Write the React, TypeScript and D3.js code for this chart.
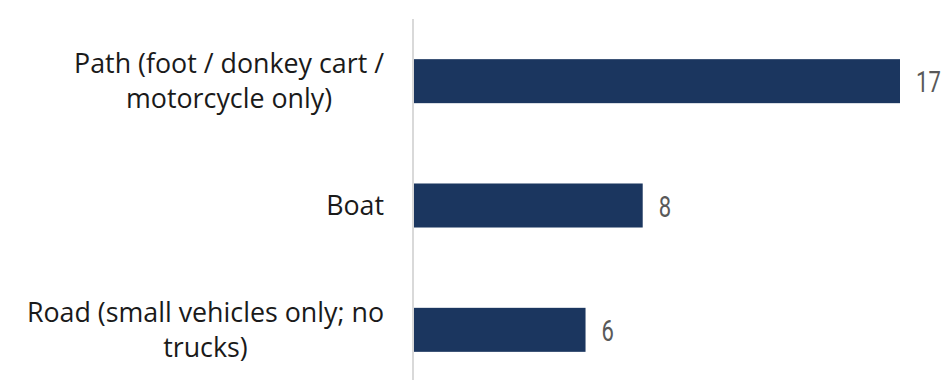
import React, { useEffect, useRef } from "react";
import * as d3 from "d3";

const categories = [
  "Path (foot / donkey cart /\nmotorcycle only)",
  "Boat",
  "Road (small vehicles only; no\ntrucks)",
];
const values = [17, 8, 6];

const W = 943;
const H = 380;

export default function App() {
  const ref = useRef<SVGSVGElement | null>(null);

  useEffect(() => {
    const svg = d3.select(ref.current);
    svg.selectAll("*").remove();

    const x = d3.scaleLinear().domain([0, 17]).range([414, 900]);
    const y = d3
      .scaleBand<string>()
      .domain(categories)
      .range([19, 392])
      .paddingInner(0.646)
      .paddingOuter(0.323);

    const data = categories.map((c, i) => ({ c, v: values[i] }));

    svg
      .append("g")
      .selectAll("rect")
      .data(data)
      .join("rect")
      .attr("x", x(0))
      .attr("y", (d) => y(d.c)!)
      .attr("width", (d) => x(d.v) - x(0))
      .attr("height", y.bandwidth())
      .attr("fill", "#1b365f");

    svg
      .append("line")
      .attr("x1", 413)
      .attr("x2", 413)
      .attr("y1", y.range()[0])
      .attr("y2", y.range()[1])
      .attr("stroke", "#d9d9d9")
      .attr("stroke-width", 2);

    // value labels (condensed horizontally to match the narrow digits)
    svg
      .append("g")
      .selectAll("text")
      .data(data)
      .join("text")
      .attr(
        "transform",
        (d) => `translate(${x(d.v) + 16},${y(d.c)! + y.bandwidth() / 2 + 11}) scale(0.76,1)`
      )
      .attr("font-family", "Roboto, sans-serif")
      .attr("font-size", 29)
      .attr("fill", "#595959")
      .text((d) => String(d.v));

    // category labels
    const lineH = 35.5;
    const rightEdge = 384;
    const g = svg.append("g");
    data.forEach((d) => {
      const lines = d.c.split("\n");
      const cy = y(d.c)! + y.bandwidth() / 2;
      const t = g
        .append("text")
        .attr("font-family", "'Open Sans', sans-serif")
        .attr("font-size", 26.8)
        .attr("fill", "#1a1a1a")
        .attr("text-anchor", "middle");
      const spans = lines.map((ln, i) =>
        t
          .append("tspan")
          .attr("y", cy + (i - (lines.length - 1) / 2) * lineH + 9.5)
          .text(ln)
      );
      const maxW = d3.max(spans, (s) => (s.node() as SVGTSpanElement).getComputedTextLength()) || 0;
      spans.forEach((s) => s.attr("x", rightEdge - maxW / 2));
    });
  }, []);

  return (
    <svg
      ref={ref}
      width={W}
      height={H}
      style={{ position: "absolute", left: 0, top: 0, background: "#fff" }}
    />
  );
}
